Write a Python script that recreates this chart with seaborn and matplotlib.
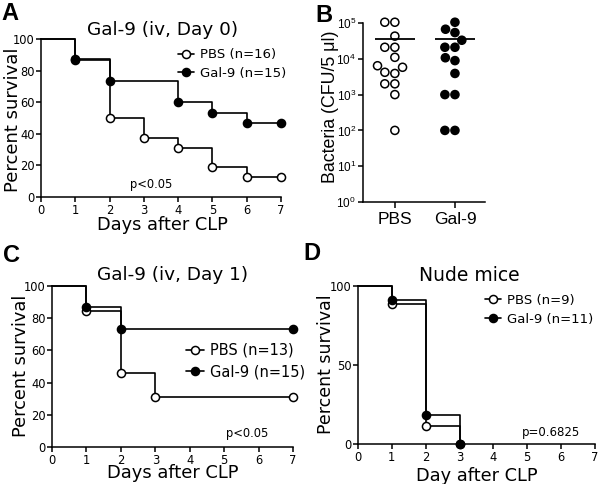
import numpy as np
import pandas as pd
import matplotlib
matplotlib.use('Agg')
import matplotlib.pyplot as plt
import seaborn as sns
from matplotlib.lines import Line2D
from matplotlib.ticker import NullLocator, FixedLocator

sns.set_theme(style='ticks')
MAIN = ['DejaVu Sans']
AR = ['Liberation Sans', 'DejaVu Sans']
plt.rcParams['font.family'] = MAIN
plt.rcParams.update({
    'axes.linewidth': 1.1, 'xtick.major.width': 1.1, 'ytick.major.width': 1.1,
    'xtick.major.size': 3.5, 'ytick.major.size': 3.5, 'axes.edgecolor': 'black',
    'xtick.color': 'black', 'ytick.color': 'black', 'text.color': 'black',
    'axes.labelcolor': 'black', 'xtick.major.pad': 1.2, 'ytick.major.pad': 1.2,
})

# ---------------- data ----------------
# Panel A: Gal-9 (iv, Day 0)
a_pbs_days = [0, 1, 2, 3, 4, 5, 6, 7]
a_pbs_surv = [100, 87.5, 50, 37.5, 31.25, 18.75, 12.5, 12.5]
a_gal_days = [0, 1, 2, 4, 5, 6, 7]
a_gal_surv = [100, 86.7, 73.3, 60, 53.3, 46.7, 46.7]

# Panel B: bacteria
b_groups = ['PBS', 'Gal-9']
b_pbs = [1.05e5, 1.05e5, 4.3e4, 2.1e4, 2.1e4, 1.1e4, 6.4e3, 5.8e3, 4.2e3, 3.9e3,
         2.0e3, 2.0e3, 1.0e3, 1.0e2]
b_gal = [1.05e5, 6.7e4, 5.4e4, 3.3e4, 2.1e4, 2.1e4, 1.07e4, 8.9e3, 3.9e3,
         1.0e3, 1.0e3, 1.0e2, 1.0e2]
b_lines = [3.6e4, 3.5e4]
b_yticks = [1e0, 1e1, 1e2, 1e3, 1e4, 1e5]

# Panel C: Gal-9 (iv, Day 1)
c_pbs_days = [0, 1, 2, 3, 7]
c_pbs_surv = [100, 84.6, 46.2, 30.8, 30.8]
c_gal_days = [0, 1, 2, 7]
c_gal_surv = [100, 86.7, 73.3, 73.3]

# Panel D: Nude mice
d_pbs_days = [0, 1, 2, 3]
d_pbs_surv = [100, 88.9, 11.1, 0]
d_gal_days = [0, 1, 2, 3]
d_gal_surv = [100, 90.9, 18.2, 0]

W, H = 600, 484
fig = plt.figure(figsize=(W / 100, H / 100), dpi=100)


def add_ax(l, r, t, b):
    return fig.add_axes([l / W, 1 - b / H, (r - l) / W, (b - t) / H])


def ft(x, y, s, **kw):
    kw.setdefault('ha', 'center')
    kw.setdefault('va', 'baseline')
    fig.text(x / W, 1 - y / H, s, **kw)


def km(ax, days, surv, fc):
    sns.lineplot(x=days, y=surv, ax=ax, color='black', lw=1.2,
                 drawstyle='steps-post', estimator=None, sort=False,
                 clip_on=False, zorder=2)
    sns.scatterplot(x=days[1:], y=surv[1:], ax=ax, color=fc, edgecolor='black',
                    linewidth=1.1, s=34, clip_on=False, zorder=3, legend=False)


def ylab(ax, text, base_x, cy, fs, family=MAIN):
    ax.set_ylabel(text, fontsize=fs, family=family, rotation=90,
                  rotation_mode='anchor', ha='center', va='baseline')
    ax.yaxis.set_label_coords(base_x / W, 1 - cy / H, transform=fig.transFigure)


def xlab(ax, text, cx, base_y, fs, family=MAIN):
    ax.set_xlabel(text, fontsize=fs, family=family, ha='center', va='baseline')
    ax.xaxis.set_label_coords(cx / W, 1 - base_y / H, transform=fig.transFigure)


def style_km(ax, yticks):
    ax.set_xlim(0, 7)
    ax.set_ylim(0, 100)
    ax.set_xticks(range(8))
    ax.set_yticks(yticks)
    ax.tick_params(labelsize=8.3)
    sns.despine(ax=ax)


def km_legend(ax, labels_, x_left, y_mid, fs, spacing):
    h = [Line2D([], [], color='black', lw=1.2, marker='o', ms=5.8, mfc='white', mec='black', mew=1.1),
         Line2D([], [], color='black', lw=1.2, marker='o', ms=5.8, mfc='black', mec='black', mew=1.1)]
    ax.legend(h, labels_, loc='center left', bbox_to_anchor=(x_left / W, 1 - y_mid / H),
              bbox_transform=fig.transFigure, frameon=False, fontsize=fs,
              handlelength=1.2, handletextpad=0.45, borderpad=0, borderaxespad=0,
              labelspacing=spacing)


# ---------------- Panel A ----------------
axA = add_ax(41, 281, 39, 197)
km(axA, a_pbs_days, a_pbs_surv, 'white')
km(axA, a_gal_days, a_gal_surv, 'black')
style_km(axA, [0, 20, 40, 60, 80, 100])
xlab(axA, 'Days after CLP', 162, 230, 12.8)
ylab(axA, 'Percent survival', 18, 120, 13)
km_legend(axA, ['PBS (n=16)', 'Gal-9 (n=15)'], 178, 64, 9.5, 0.4)
ft(163, 35, 'Gal-9 (iv, Day 0)', fontsize=13.3)
ft(151, 188, 'p<0.05', fontsize=8.3)

# ---------------- Panel B ----------------
axB = add_ax(363, 485, 23, 202)
dfB = pd.DataFrame({
    'group': ['PBS'] * len(b_pbs) + ['Gal-9'] * len(b_gal),
    'value': b_pbs + b_gal,
})
axB.set_yscale('log')
axB.set_ylim(1, 1e5)
sns.swarmplot(data=dfB, x='group', y='value', hue='group', order=b_groups,
              palette={'PBS': 'white', 'Gal-9': 'black'}, edgecolor='black',
              linewidth=1.1, size=5.8, ax=axB, legend=False, clip_on=False, zorder=3)
axB.hlines(b_lines, np.arange(len(b_groups)) - 0.33, np.arange(len(b_groups)) + 0.33,
           color='black', lw=1.3, zorder=4)
axB.set_xlim(-0.53, 1.5)
axB.set_ylim(1, 1e5)
axB.yaxis.set_major_locator(FixedLocator(b_yticks))
axB.yaxis.set_minor_locator(NullLocator())
xlab(axB, '', 424, 240, 10)
ylab(axB, 'Bacteria (CFU/5 \u03bcl)', 335, 107, 12.8, family=AR)
axB.tick_params(axis='y', labelsize=8.5, pad=1.5)
axB.tick_params(axis='x', labelsize=12.5, length=4, pad=3)
for lab in axB.get_xticklabels() + axB.get_yticklabels():
    lab.set_family(AR)
sns.despine(ax=axB)

# ---------------- Panel C ----------------
axC = add_ax(52, 293, 286, 447)
km(axC, c_pbs_days, c_pbs_surv, 'white')
km(axC, c_gal_days, c_gal_surv, 'black')
style_km(axC, [0, 20, 40, 60, 80, 100])
xlab(axC, 'Days after CLP', 173, 478, 12.9)
ylab(axC, 'Percent survival', 26, 366, 12.8)
km_legend(axC, ['PBS (n=13)', 'Gal-9 (n=15)'], 186, 361, 10.5, 0.45)
ft(173, 280, 'Gal-9 (iv, Day 1)', fontsize=13.3)
ft(247, 437, 'p<0.05', fontsize=8.3)

# ---------------- Panel D ----------------
axD = add_ax(358, 595, 286, 444)
km(axD, d_pbs_days, d_pbs_surv, 'white')
km(axD, d_gal_days, d_gal_surv, 'black')
style_km(axD, [0, 50, 100])
xlab(axD, 'Day after CLP', 477, 481, 12.8)
ylab(axD, 'Percent survival', 331, 364, 12.5)
km_legend(axD, ['PBS (n=9)', 'Gal-9 (n=11)'], 485, 310, 9.5, 0.45)
ft(469, 281, 'Nude mice', fontsize=13.5)
ft(551, 436, 'p=0.6825', fontsize=8.5)

# panel letters
for x, y, s in [(10, 20, 'A'), (324, 22, 'B'), (11, 262, 'C'), (312, 260, 'D')]:
    ft(x, y, s, fontsize=17, fontweight='bold', family=AR)

fig.savefig('out.png', dpi=100)
